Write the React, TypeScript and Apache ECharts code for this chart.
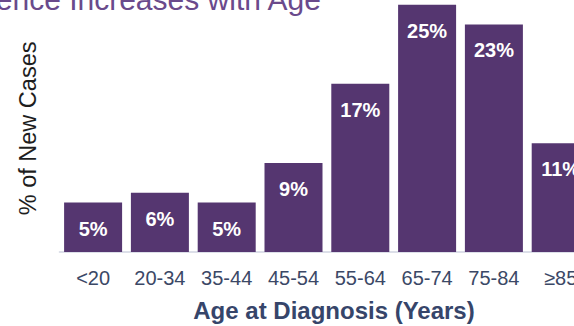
import React, { useEffect, useRef } from "react";
import * as echarts from "echarts";

// Share of new cases by age group at diagnosis
const AGE_GROUPS = ["<20", "20-34", "35-44", "45-54", "55-64", "65-74", "75-84", "≥85"];
const PERCENT_NEW_CASES = [5, 6, 5, 9, 17, 25, 23, 11];

const TITLE = "Incidence Increases with Age";
const Y_AXIS_NAME = "% of New Cases";
const X_AXIS_NAME = "Age at Diagnosis (Years)";

const FONT = "'Liberation Sans', Arial, Helvetica, sans-serif";
const BAR_COLOR = "#553670";

export default function App() {
  const ref = useRef<HTMLDivElement>(null);

  useEffect(() => {
    if (!ref.current) return;
    const chart = echarts.init(ref.current, null, { renderer: "svg" });
    chart.setOption({
      animation: false,
      backgroundColor: "#ffffff",
      grid: {
        left: 59.7,
        right: -20.1,
        top: 4.7,
        bottom: 74,
        containLabel: false,
        outerBoundsMode: "none",
      },
      xAxis: {
        type: "category",
        data: AGE_GROUPS,
        axisTick: { show: false },
        axisLine: { lineStyle: { color: "#dcdfe9", width: 2 } },
        axisLabel: {
          interval: 0,
          fontSize: 20,
          color: "#3b4866",
          fontFamily: FONT,
          margin: 16,
        },
      },
      yAxis: {
        type: "value",
        min: 0,
        max: 25,
        show: false,
        splitLine: { show: false },
      },
      series: [
        {
          type: "bar",
          data: PERCENT_NEW_CASES,
          barWidth: 58,
          itemStyle: { color: BAR_COLOR },
          label: {
            show: true,
            position: "insideTop",
            distance: 16,
            formatter: "{c}%",
            fontSize: 20,
            fontWeight: "bold",
            color: "#ffffff",
            fontFamily: FONT,
          },
        },
      ],
      graphic: [
        {
          type: "text",
          x: 321,
          y: -0.4,
          style: {
            text: TITLE,
            fontSize: 30,
            fontFamily: FONT,
            fill: "#6a4a8c",
            align: "right",
            verticalAlign: "middle",
          },
        },
        {
          type: "text",
          x: 28,
          y: 128.4,
          rotation: Math.PI / 2,
          style: {
            text: Y_AXIS_NAME,
            fontSize: 23.5,
            fontFamily: FONT,
            fill: "#1e1e1e",
            align: "center",
            verticalAlign: "middle",
          },
        },
        {
          type: "text",
          x: 334,
          y: 310,
          style: {
            text: X_AXIS_NAME,
            fontSize: 24,
            fontWeight: "bold",
            fontFamily: FONT,
            fill: "#36456a",
            align: "center",
            verticalAlign: "middle",
          },
        },
      ],
    });
    return () => chart.dispose();
  }, []);

  return (
    <div
      ref={ref}
      style={{ position: "fixed", left: 0, top: 0, width: 574, height: 326, background: "#ffffff" }}
    />
  );
}
